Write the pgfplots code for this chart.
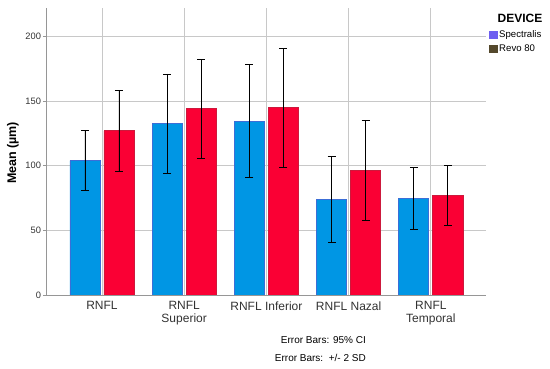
\documentclass[border=0pt]{standalone}
\usepackage{fontspec}
\setmainfont{Liberation Sans}
\usepackage{pgfplots}
\usepackage{pgfplotstable}
\pgfplotsset{compat=1.18}
\definecolor{barblue}{RGB}{0,150,228}
\definecolor{barred}{RGB}{250,0,52}
\definecolor{barblueedge}{RGB}{60,110,215}
\definecolor{barrededge}{RGB}{205,25,60}
\definecolor{legblue}{RGB}{110,95,240}
\definecolor{legdark}{RGB}{84,72,44}
\definecolor{gridgray}{RGB}{200,200,200}
\definecolor{axgray}{RGB}{150,150,150}
\definecolor{txtgray}{RGB}{50,50,50}
\pgfplotstableread{
x y e
0 104.0 23.0
1 132.5 38.5
2 134.5 43.6
3 74.2 33.3
4 74.7 23.9
}\spectralis
\pgfplotstableread{
x y e
0 127.0 31.3
1 144.0 38.5
2 145.0 46.0
3 96.5 38.7
4 77.0 23.0
}\revo
\begin{document}
\begin{tikzpicture}
\path[use as bounding box] (0pt,0pt) rectangle (550pt,369pt);
\begin{axis}[
  at={(46pt,74pt)}, anchor=south west,
  scale only axis, width=440pt, height=287pt,
  xmin=-0.68, xmax=4.67, ymin=0, ymax=222,
  axis lines*=left,
  axis line style={axgray, line width=0.8pt},
  xtick={0,1,2,3,4},
  xticklabels={RNFL, RNFL\\Superior, RNFL Inferior, RNFL Nazal, RNFL\\Temporal},
  xticklabel style={align=center, font=\fontsize{12}{12.5}\selectfont, text=txtgray},
  ytick={0,50,100,150,200},
  yticklabel style={font=\fontsize{9.3}{10}\selectfont, text=txtgray, xshift=1.5pt},
  /pgf/number format/assume math mode=true,
  xtick style={draw=none},
  ytick style={axgray, line width=0.6pt},
  tick align=outside, major tick length=3pt,
  grid=major, major grid style={gridgray, line width=0.8pt},
  ylabel={\bfseries Mean (µm)},
  every axis y label/.style={at={(axis description cs:-0.075,0.495)}, rotate=90, anchor=center, font=\fontsize{12.5}{14}\selectfont},
  ybar, bar width=30pt,
  legend style={at={(axis description cs:1.006,0.928)}, anchor=north west, draw=none, fill=none, font=\fontsize{9.6}{11}\selectfont, inner sep=0pt, row sep=1.5pt},
  legend cell align=left,
]
\addplot[fill=barblue, draw=barblueedge, line width=0.8pt, bar shift=-17pt, forget plot,
  error bars/.cd, y dir=both, y explicit,
  error bar style={black, line width=0.8pt},
  error mark options={rotate=90, mark size=4pt, black, line width=0.8pt}]
  table[x=x, y=y, y error=e] {\spectralis};
\addplot[fill=barred, draw=barrededge, line width=0.8pt, bar shift=17pt, forget plot,
  error bars/.cd, y dir=both, y explicit,
  error bar style={black, line width=0.8pt},
  error mark options={rotate=90, mark size=4pt, black, line width=0.8pt}]
  table[x=x, y=y, y error=e] {\revo};
\addlegendimage{legend image code/.code={\fill[legblue] (0pt,-3.5pt) rectangle (8pt,3.5pt);}}
\addlegendentry{Spectralis}
\addlegendimage{legend image code/.code={\fill[legdark] (0pt,-3.5pt) rectangle (8pt,3.5pt);}}
\addlegendentry{Revo 80}
\end{axis}
\node[font=\bfseries\fontsize{12}{14}\selectfont] at (520pt,351pt) {DEVICE};
\node[anchor=east, font=\fontsize{10}{12}\selectfont, inner sep=0pt] at (366pt,29pt) {Error Bars: 95\% CI};
\node[anchor=east, font=\fontsize{10}{12}\selectfont, inner sep=0pt] at (366pt,11pt) {Error Bars:\ \ +/- 2 SD};
\end{tikzpicture}
\end{document}
